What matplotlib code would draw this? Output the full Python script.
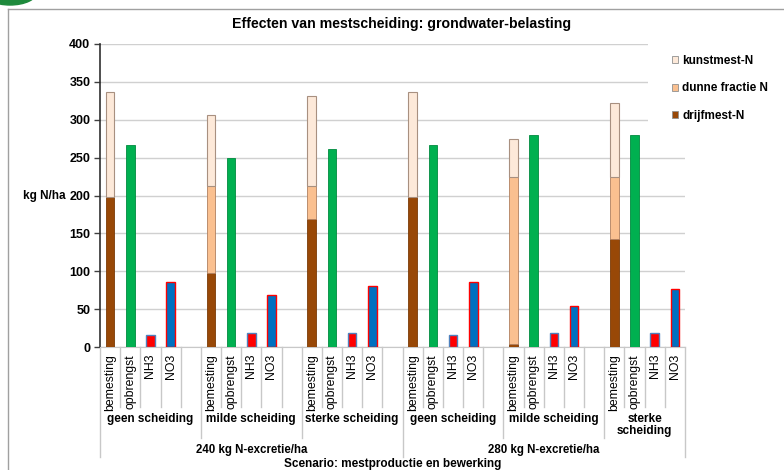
import numpy as np
import matplotlib.pyplot as plt
from matplotlib.patches import Patch, Ellipse
from matplotlib.lines import Line2D

plt.rcParams['font.family'] = ['Liberation Sans', 'DejaVu Sans']

# Gegevens per scenario (N-excretie x mate van scheiding)
excretie = ["240 kg N-excretie/ha", "280 kg N-excretie/ha"]
scheiding = ["geen scheiding", "milde scheiding", "sterke\nscheiding"]
scheiding_240 = ["geen scheiding", "milde scheiding", "sterke scheiding"]
items = ["bemesting", "opbrengst", "NH3", "NO3"]

drijfmest = [198, 98, 169, 198, 4, 142]
dunne_fractie = [0, 114, 43, 0, 220, 82]
kunstmest = [139, 94, 119, 139, 51, 98]
opbrengst = [267, 250, 262, 267, 280, 280]
nh3 = [16, 18, 18, 16, 19, 19]
no3 = [86, 69, 80, 86, 54, 77]

c_drijf = '#984807'
c_dunne = '#FAC090'
c_kunst = '#FDE9D9'
c_groen = '#00B050'
c_rood = '#FF0000'
c_blauw = '#0070C0'

fig = plt.figure(figsize=(7.84, 4.7), dpi=100)
ax = fig.add_axes([100 / 784, 1 - 347 / 470, 585 / 784, 303 / 470])

n_groups = len(drijfmest)
start = np.arange(n_groups) * 5
pos_bem = start
pos_opb = start + 1
pos_nh3 = start + 2
pos_no3 = start + 3
w = 0.43

drijf = np.array(drijfmest)
dunne = np.array(dunne_fractie)
ax.bar(pos_bem, drijf, w, color=c_drijf, edgecolor='#7a3a06', linewidth=0.6, zorder=3)
ax.bar(pos_bem, dunne, w, bottom=drijf, color=c_dunne, edgecolor='#b08060',
       linewidth=0.6, zorder=3)
ax.bar(pos_bem, kunstmest, w, bottom=drijf + dunne, color=c_kunst, edgecolor='#a89080',
       linewidth=0.8, zorder=3)
ax.bar(pos_opb, opbrengst, w, color=c_groen, edgecolor='#008a3e', linewidth=0.6, zorder=3)
ax.bar(pos_nh3, nh3, w, color=c_rood, edgecolor='#4F81BD', linewidth=1.0, zorder=3)
ax.bar(pos_no3, no3, w, color=c_blauw, edgecolor=c_rood, linewidth=1.0, zorder=3)

ax.set_ylim(0, 400)
ax.set_xlim(-0.5, 28.5)
ax.set_yticks(np.arange(0, 401, 50))
ax.tick_params(axis='y', labelsize=9, length=4, width=1, color='#404040', pad=3)
for lbl in ax.get_yticklabels():
    lbl.set_fontweight('bold')
ax.yaxis.grid(True, color='#d0d0d0', linewidth=1)
ax.set_axisbelow(True)
for s in ['top', 'right']:
    ax.spines[s].set_visible(False)
ax.spines['left'].set_color('#303030')
ax.spines['left'].set_linewidth(1.2)
ax.spines['bottom'].set_color('#c8c8c8')

# categorie-labels onder de as
xt = np.concatenate([pos_bem, pos_opb, pos_nh3, pos_no3])
xl = [items[0]] * n_groups + [items[1]] * n_groups + [items[2]] * n_groups + [items[3]] * n_groups
ax.set_xticks(xt)
ax.set_xticklabels(xl, rotation=90, va='top', ha='center', fontsize=8.8)
ax.tick_params(axis='x', length=0, pad=5)

trans = ax.get_xaxis_transform()
px = 1 / 303
sep_color = '#c8c8c8'
for b in np.arange(-0.5, 28.6, 1):
    if b in (-0.5, 14.5, 28.5):
        y_end = -110 * px
    elif b in (4.5, 9.5, 19.5, 24.5):
        y_end = -91 * px
    else:
        y_end = -60 * px
    ax.plot([b, b], [0, y_end], color=sep_color, lw=1, transform=trans, clip_on=False)

grp_labels = scheiding_240 + scheiding
grp_bounds = [(-0.5, 4.5), (4.5, 9.5), (9.5, 14.5), (14.5, 19.5), (19.5, 24.5), (24.5, 28.5)]
for (a, b), lab in zip(grp_bounds, grp_labels):
    ax.text((a + b) / 2, -66 * px, lab, transform=trans, ha='center', va='top',
            fontsize=8.5, fontweight='bold', linespacing=1.05)

ax.text(7, -103 * px, excretie[0], transform=trans, ha='center', va='center',
        fontsize=8.3, fontweight='bold')
ax.text(21.5, -103 * px, excretie[1], transform=trans, ha='center', va='center',
        fontsize=8.3, fontweight='bold')

fig.text(392.5 / 784, 1 - 464 / 470, "Scenario: mestproductie en bewerking",
         ha='center', va='center', fontsize=8.5, fontweight='bold')
fig.text(402 / 784, 1 - 24 / 470, "Effecten van mestscheiding: grondwater-belasting",
         ha='center', va='center', fontsize=10.2, fontweight='bold')
fig.text(44 / 784, 1 - 196 / 470, "kg N/ha", ha='center', va='center',
         fontsize=8.5, fontweight='bold')

handles = [Patch(facecolor=c_kunst, edgecolor='#909090', lw=0.6),
           Patch(facecolor=c_dunne, edgecolor='#909090', lw=0.6),
           Patch(facecolor=c_drijf, edgecolor='#909090', lw=0.6)]
leg = fig.legend(handles, ["kunstmest-N", "dunne fractie N", "drijfmest-N"],
                 loc='upper left', bbox_to_anchor=(648 / 784, 1 - 31 / 470),
                 frameon=True, fancybox=False, facecolor='white', edgecolor='none',
                 prop={'weight': 'bold', 'size': 8.5}, handlelength=0.55,
                 handleheight=0.55, handletextpad=0.35, labelspacing=1.33,
                 borderpad=2.0, borderaxespad=0)
leg.get_frame().set_alpha(1)

# omlijsting en groene hoek
fig.add_artist(Line2D([8 / 784, 1], [1 - 9 / 470, 1 - 9 / 470], color='#a0a0a0', lw=1))
fig.add_artist(Line2D([8 / 784, 8 / 784], [0, 1 - 9 / 470], color='#a0a0a0', lw=1))
fig.add_artist(Ellipse((10 / 784, 1 + 8 / 470), 54 / 784, 26 / 470,
                       color='#1e8a3c', transform=fig.transFigure))

fig.savefig('out.png', dpi=100)
